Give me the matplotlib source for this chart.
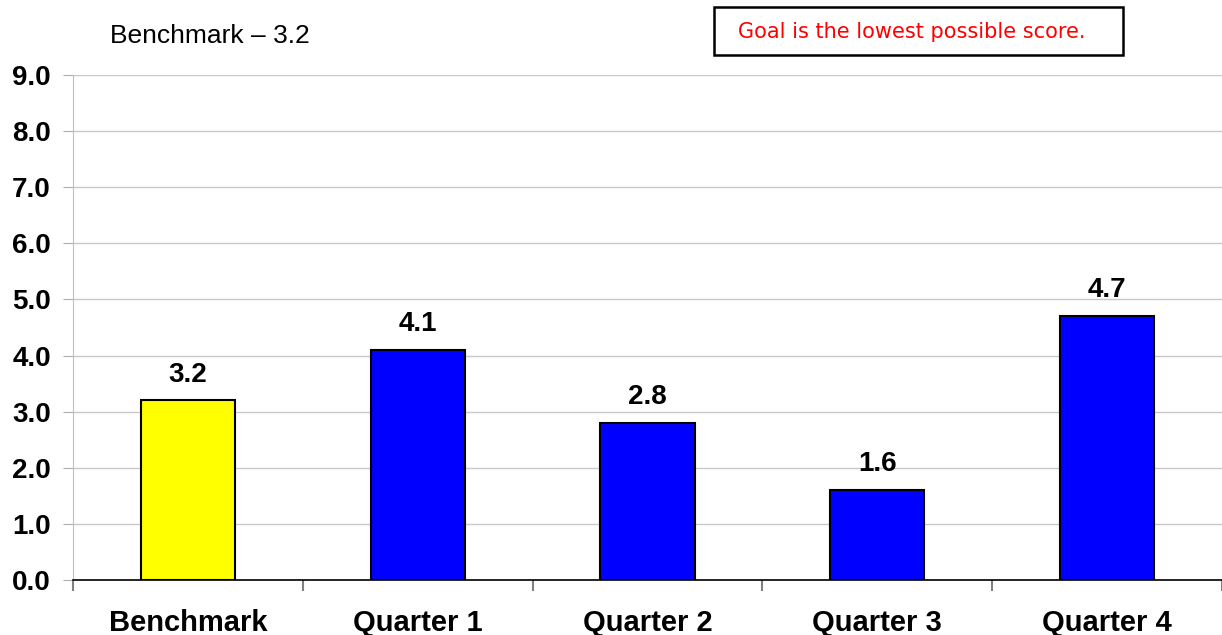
import matplotlib.pyplot as plt
import numpy as np
from matplotlib.patches import Rectangle

plt.rcParams['font.family'] = ['Liberation Sans', 'DejaVu Sans']

categories = ["Benchmark", "Quarter 1", "Quarter 2", "Quarter 3", "Quarter 4"]
scores = [3.2, 4.1, 2.8, 1.6, 4.7]
bar_colors = ["#FFFF00", "#0000FF", "#0000FF", "#0000FF", "#0000FF"]
y_ticks = np.arange(0, 10, 1)

fig = plt.figure(figsize=(12.22, 6.35), dpi=100)
ax = fig.add_axes([73 / 1222, 1 - 580 / 635, 1 - 73 / 1222, (580 - 75) / 635])

x = np.arange(len(categories))
ax.bar(x, scores, width=0.41, color=bar_colors, edgecolor="black", linewidth=1.5, zorder=3)

for xi, v in zip(x, scores):
    ax.text(xi, v + 0.23, f"{v:.1f}", ha="center", va="bottom",
            fontsize=20, fontweight="bold")

ax.set_xlim(-0.5, len(categories) - 0.5)
ax.set_ylim(0, 9)
ax.set_yticks(y_ticks)
ax.set_yticklabels([f"{t:.1f}" for t in y_ticks], fontsize=20, fontweight="bold")
ax.yaxis.grid(True, color="#C8C8C8", linewidth=1)
ax.set_axisbelow(True)

# category labels centred, tick marks on the boundaries
ax.set_xticks(x)
ax.set_xticklabels(categories, fontsize=21, fontweight="bold")
ax.tick_params(axis="x", length=0, pad=21)
ax.set_xticks(np.arange(-0.5, len(categories), 1), minor=True)
ax.tick_params(axis="x", which="minor", length=8, color="#808080", width=1.5)
ax.tick_params(axis="y", length=7, color="#B0B0B0", pad=9)

for s in ["top", "right"]:
    ax.spines[s].set_visible(False)
ax.spines["left"].set_color("#C0C0C0")
ax.spines["bottom"].set_color("black")
ax.spines["bottom"].set_linewidth(1.2)

fig.text(110 / 1222, 1 - 36 / 635, "Benchmark \u2013 3.2", fontsize=19, va="center", ha="left")

# note box
fig.patches.append(Rectangle((714 / 1222, 1 - 55 / 635), 409 / 1222, 48 / 635,
                             transform=fig.transFigure, facecolor="white",
                             edgecolor="black", linewidth=1.8))
fig.text(912 / 1222, 1 - 32 / 635, "Goal is the lowest possible score.", fontsize=15,
         color="#FF0000", va="center", ha="center", family="DejaVu Sans")

fig.savefig("out.png", dpi=100)
